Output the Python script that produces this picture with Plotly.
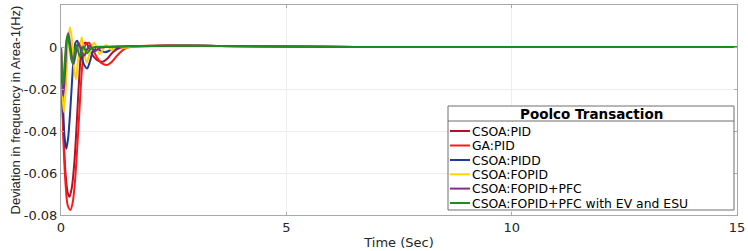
import plotly.graph_objects as go

# ---------------- data ----------------
x_tick_vals = [0, 5, 10, 15]
x_tick_text = ["0", "5", "10", "15"]
y_tick_vals = [0.02, 0, -0.02, -0.04, -0.06, -0.08]
y_tick_text = ["0.02", "0", "-0.02", "-0.04", "-0.06", "-0.08"]

series_names = ["CSOA:PID", "GA:PID", "CSOA:PIDD", "CSOA:FOPID",
                "CSOA:FOPID+PFC", "CSOA:FOPID+PFC with EV and ESU"]
series_colors = ["#B0122C", "#FF1A1A", "#1F3A9A", "#FFD200", "#7E2F8E", "#1E8C1E"]

csoa_pid_t = [0, 0.05, 0.1, 0.15, 0.19, 0.24, 0.3, 0.35, 0.4, 0.45, 0.5, 0.56, 0.63,
              0.72, 0.82, 0.93, 1.03, 1.15, 1.3, 1.5, 2.5, 3.5, 5, 7, 15]
csoa_pid_v = [0, -0.038, -0.06, -0.0695, -0.0713, -0.067, -0.054, -0.036, -0.016, -0.002,
              0.0015, 0.002, -0.001, -0.0045, -0.0065, -0.007, -0.0055, -0.0025, -0.0005,
              0.0002, 0.0007, 0.0005, 0.0002, 0, 0]

ga_pid_t = [0, 0.05, 0.1, 0.15, 0.21, 0.26, 0.31, 0.36, 0.41, 0.46, 0.51, 0.56, 0.62,
            0.7, 0.8, 0.9, 1.02, 1.13, 1.25, 1.4, 1.6, 2.5, 3.5, 5, 7, 15]
ga_pid_v = [0, -0.042, -0.065, -0.0755, -0.0776, -0.074, -0.064, -0.048, -0.03, -0.012,
            -0.001, 0.0015, 0.002, -0.001, -0.005, -0.0077, -0.0086, -0.007, -0.004,
            -0.001, 0.0002, 0.0007, 0.0005, 0.0002, 0, 0]

csoa_pidd_t = [0, 0.04, 0.08, 0.12, 0.16, 0.2, 0.24, 0.28, 0.32, 0.36, 0.41, 0.46, 0.52,
               0.58, 0.64, 0.7, 0.76, 0.85, 0.98, 1.1, 1.3, 1.6, 2.5, 3.5, 5, 7, 15]
csoa_pidd_v = [0, -0.025, -0.043, -0.0485, -0.043, -0.032, -0.018, -0.005, 0.002, 0.003,
               0.0, -0.005, -0.0088, -0.0102, -0.007, -0.0025, -0.001, -0.0015, -0.0025,
               -0.0015, 0, 0.0003, 0.0006, 0.0005, 0.0002, 0, 0]

csoa_fopid_t = [0, 0.03, 0.065, 0.11, 0.16, 0.2, 0.24, 0.29, 0.33, 0.38, 0.46, 0.51, 0.57,
                0.65, 0.74, 0.86, 1.0, 1.12, 1.25, 1.4, 1.6, 2.5, 3.5, 5, 7, 15]
csoa_fopid_v = [0, -0.022, -0.031, -0.018, 0.004, 0.0094, 0.004, -0.01, -0.0154, -0.006,
                0.0046, -0.002, -0.0075, -0.002, 0.002, -0.0033, 0.001, -0.0014, 0.0005,
                -0.0004, 0.0002, 0.0006, 0.0005, 0.0002, 0, 0]

csoa_fopid_pfc_t = [0, 0.025, 0.05, 0.09, 0.13, 0.16, 0.2, 0.25, 0.28, 0.33, 0.39, 0.45,
                    0.52, 0.58, 0.64, 0.75, 0.85, 1.0, 1.5, 2.5, 3.5, 5, 7, 15]
csoa_fopid_pfc_v = [0, -0.017, -0.0235, -0.012, 0.003, 0.0065, 0.002, -0.006, -0.008,
                    -0.003, 0.002, -0.002, -0.004, -0.001, 0.0005, -0.002, -0.0005, 0,
                    0.0003, 0.0006, 0.0005, 0.0002, 0, 0]

csoa_fopid_pfc_ev_t = [0, 0.02, 0.045, 0.08, 0.12, 0.15, 0.19, 0.23, 0.26, 0.3, 0.34, 0.38,
                       0.42, 0.46, 0.5, 0.54, 0.58, 0.65, 0.75, 1.0, 1.5, 2.5, 3.5, 5, 7, 15]
csoa_fopid_pfc_ev_v = [0, -0.013, -0.018, -0.008, 0.003, 0.0057, 0.0005, -0.006, -0.0078,
                       -0.003, 0.001, -0.002, -0.0046, -0.002, 0.0002, -0.0015, -0.003,
                       -0.001, 0, 0.0001, 0.0003, 0.0006, 0.0005, 0.0002, 0, 0]

series_t = [csoa_pid_t, ga_pid_t, csoa_pidd_t, csoa_fopid_t, csoa_fopid_pfc_t, csoa_fopid_pfc_ev_t]
series_v = [csoa_pid_v, ga_pid_v, csoa_pidd_v, csoa_fopid_v, csoa_fopid_pfc_v, csoa_fopid_pfc_ev_v]

legend_title = "Poolco Transaction"

# ---------------- figure ----------------
W, H = 748, 251
L, R, T, B = 61, 11, 5, 36
pw, ph = W - L - R, H - T - B


def px(xp):
    return (xp - L) / pw


def py(yp):
    return (H - B - yp) / ph


fig = go.Figure()
for name, col, t, v in zip(series_names, series_colors, series_t, series_v):
    fig.add_trace(go.Scatter(x=t, y=v, mode="lines", name=name, showlegend=False,
                             line=dict(color=col, width=2, shape="spline", smoothing=0.8)))

axis_common = dict(showline=True, linecolor="#A8A8A8", linewidth=1, mirror="ticks",
                   ticks="inside", ticklen=3, tickcolor="#A8A8A8",
                   showgrid=True, gridcolor="#EDEDED", gridwidth=1, zeroline=False,
                   tickfont=dict(family="DejaVu Sans", size=13, color="#262626"))

fig.update_xaxes(range=[0, 15], tickvals=x_tick_vals, ticktext=x_tick_text,
                 title=dict(text="Time (Sec)", font=dict(family="DejaVu Sans", size=13, color="#262626"),
                            standoff=4),
                 automargin=False, **axis_common)
fig.update_yaxes(range=[-0.08, 0.02], tickvals=y_tick_vals, ticktext=y_tick_text,
                 title=dict(text="Deviation in frequency in Area-1(Hz)",
                            font=dict(family="Liberation Sans", size=13, color="#262626"),
                            standoff=0),
                 automargin=False, **axis_common)

# legend drawn manually (box, title, separator, samples, labels)
bx0, bx1, by0, by1 = 448, 734, 106, 210
shapes = [
    dict(type="rect", xref="paper", yref="paper", x0=px(bx0), x1=px(bx1), y0=py(by1), y1=py(by0),
         line=dict(color="#6E6E6E", width=1), fillcolor="white", layer="above"),
    dict(type="line", xref="paper", yref="paper", x0=px(bx0), x1=px(bx1), y0=py(121), y1=py(121),
         line=dict(color="#6E6E6E", width=1), layer="above"),
]
annotations = [
    dict(text="<b>" + legend_title + "</b>", xref="paper", yref="paper", x=px(591.5), y=py(114),
         xanchor="center", yanchor="middle", showarrow=False, borderpad=0,
         font=dict(family="DejaVu Sans", size=13.5, color="#000000")),
]
row_y = [131, 145.5, 160, 174.3, 188.6, 203]
for name, col, ry in zip(series_names, series_colors, row_y):
    shapes.append(dict(type="line", xref="paper", yref="paper", x0=px(450), x1=px(470),
                       y0=py(ry), y1=py(ry), line=dict(color=col, width=2), layer="above"))
    annotations.append(dict(text=name, xref="paper", yref="paper", x=px(471), y=py(ry),
                            xanchor="left", yanchor="middle", showarrow=False, borderpad=0,
                            font=dict(family="DejaVu Sans", size=12.4, color="#000000")))

fig.update_layout(width=W, height=H, margin=dict(l=L, r=R, t=T, b=B),
                  paper_bgcolor="white", plot_bgcolor="white",
                  shapes=shapes, annotations=annotations, showlegend=False)

fig.write_html("out.html", config={"displayModeBar": False},
               post_script="document.body.style.margin='0px';")
